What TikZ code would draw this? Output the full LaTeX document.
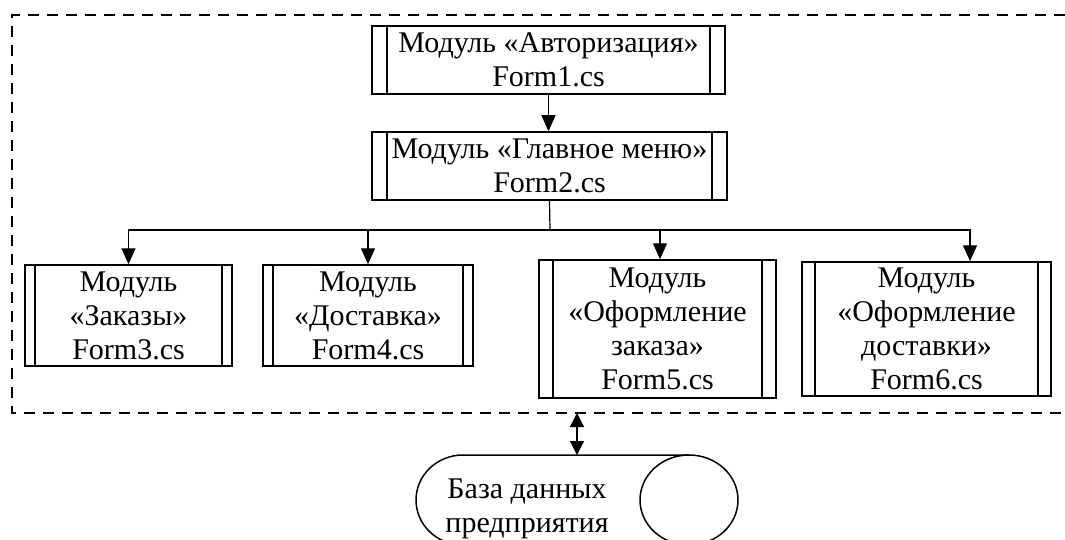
\documentclass[tikz,border=0pt]{standalone}
\usepackage{fontspec}
\setmainfont{Liberation Serif}
\usetikzlibrary{arrows.meta}
\begin{document}
\begin{tikzpicture}[x=1pt,y=-1pt,
  txt/.style={font=\fontsize{30}{34}\selectfont, align=center, inner sep=0pt},
  module/.style={txt, draw, line width=1.5pt,
    path picture={
      \draw[line width=1.5pt]
        ([xshift=#1]path picture bounding box.north west) -- ([xshift=#1]path picture bounding box.south west)
        ([xshift=-#1]path picture bounding box.north east) -- ([xshift=-#1]path picture bounding box.south east);}},
  module/.default=14pt,
  link/.style={line width=1.2pt, -{Triangle[width=14pt,length=16pt]}},
  wire/.style={line width=1.2pt},
  bothway/.style={line width=1.2pt, {Triangle[width=14pt,length=14pt]}-{Triangle[width=14pt,length=14pt]}},
  frame/.style={line width=2.6pt, dash pattern=on 11pt off 8pt},
  store/.style={line width=1.5pt}
]
\useasboundingbox (0,0) rectangle (1065,540);

% dashed boundary of the application (open to the right)
\draw[frame] (1065,15) -- (12,15) -- (12,413) -- (1065,413);

% modules
\node[module=15pt, minimum width=353pt, minimum height=68pt] (auth) at (548.5,60)
  {Модуль «Авторизация»\\Form1.cs};
\node[module=15pt, minimum width=355pt, minimum height=68pt] (menu) at (549.5,166)
  {Модуль «Главное меню»\\Form2.cs};
\node[module=10pt, minimum width=207pt, minimum height=101pt] (orders) at (128.5,315.5)
  {Модуль\\«Заказы»\\Form3.cs};
\node[module=10pt, minimum width=210pt, minimum height=101pt] (delivery) at (368,315.5)
  {Модуль\\«Доставка»\\Form4.cs};
\node[module=14pt, minimum width=237pt, minimum height=138pt] (makeorder) at (657.5,329)
  {Модуль\\«Оформление\\заказа»\\Form5.cs};
\node[module=13pt, minimum width=249pt, minimum height=134pt] (makedelivery) at (926.5,329)
  {Модуль\\«Оформление\\доставки»\\Form6.cs};

% connections between modules
\coordinate (bus) at (550,230);
\draw[link] (auth.south) -- (auth.south |- menu.north);
\draw[wire] (menu.south) -- (bus);
\draw[link] (bus) -| (orders.north);
\draw[link] (bus) -| (delivery.north);
\draw[link] (bus) -| ([xshift=2.5pt]makeorder.north);
\draw[link] (bus) -| ([xshift=43.5pt]makedelivery.north);

% database (stored data symbol)
\draw[store] (689,455) -- (463,455)
  arc[start angle=-90, end angle=-270, x radius=47, y radius=45] -- (689,545);
\draw[store] (689,500) ellipse[x radius=49, y radius=45];
\node[txt] (db) at (527,509) {База данных\\предприятия};

% exchange between the application and the database
\coordinate (appedge) at (577,413);
\coordinate (dbtop) at (577,455);
\draw[bothway] (appedge) -- (dbtop);
\end{tikzpicture}
\end{document}
